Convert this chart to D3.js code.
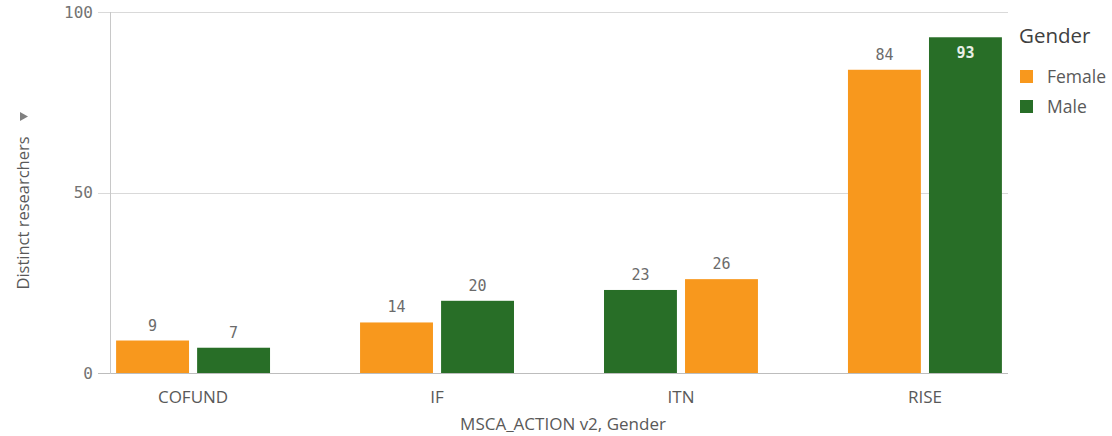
<!DOCTYPE html>
<meta charset="utf-8">
<style>
  body { margin: 0; background: #fff; }
  .tick-label, .value-label { font-family: "DejaVu Sans Mono", monospace; }
  .cat-label, .axis-title, .legend text { font-family: "Open Sans", sans-serif; }
</style>
<body>
<svg width="1112" height="436"></svg>
<script src="https://d3js.org/d3.v7.min.js"></script>
<script>

var categories = ["COFUND", "IF", "ITN", "RISE"];
var genders = ["Female", "Male"];
var female = [9, 14, 26, 84];
var male = [7, 20, 23, 93];
// bar order inside each group, as shown (ITN is flipped)
var barOrder = [["Female", "Male"], ["Female", "Male"], ["Male", "Female"], ["Female", "Male"]];
var yTicks = [0, 50, 100];

var colors = { Female: "#f8981d", Male: "#286e27" };
var textGrey = "#595959";

var svg = d3.select("svg");
var plotLeft = 110, plotRight = 1008, plotTop = 12, plotBottom = 373;

var y = d3.scaleLinear().domain([0, 100]).range([plotBottom, plotTop]);
var x = d3.scaleBand().domain(categories).range([plotLeft, plotRight])
    .paddingInner(0.369).paddingOuter(0.025);
var xInner = d3.scaleBand().domain([0, 1]).range([0, x.bandwidth()]).paddingInner(0.1);

// gridlines + ticks
svg.append("g").selectAll("line")
  .data(yTicks)
  .enter().append("line")
    .attr("x1", plotLeft - 12).attr("x2", plotRight)
    .attr("y1", d => Math.round(y(d)) + 0.5).attr("y2", d => Math.round(y(d)) + 0.5)
    .attr("stroke", d => d === 0 ? "#bdbdbd" : "#d9d9d9");

svg.append("line")
    .attr("x1", plotLeft + 0.5).attr("x2", plotLeft + 0.5)
    .attr("y1", plotTop).attr("y2", plotBottom + 1)
    .attr("stroke", "#c8c8c8");

svg.append("g").selectAll("text")
  .data(yTicks)
  .enter().append("text")
    .attr("class", "tick-label")
    .attr("x", plotLeft - 17).attr("y", d => y(d))
    .attr("dy", "0.35em")
    .attr("text-anchor", "end")
    .attr("font-size", 16)
    .attr("fill", "#737373")
    .text(d => d);

// bars
var rows = [];
categories.forEach(function(c, i) {
  var vals = { Female: female[i], Male: male[i] };
  barOrder[i].forEach(function(g, j) {
    rows.push({ cat: c, gender: g, slot: j, value: vals[g] });
  });
});

function inside(d) { return y(d.value) - 30 < plotTop; }

var bars = svg.append("g").selectAll("g")
  .data(rows)
  .enter().append("g")
    .attr("transform", d => "translate(" + (x(d.cat) + xInner(d.slot)) + ",0)");

bars.append("rect")
    .attr("x", 0).attr("width", xInner.bandwidth())
    .attr("y", d => y(d.value))
    .attr("height", d => plotBottom - y(d.value))
    .attr("fill", d => colors[d.gender]);

bars.append("text")
    .attr("class", "value-label")
    .attr("x", xInner.bandwidth() / 2)
    .attr("y", d => inside(d) ? y(d.value) + 21 : y(d.value) - 10)
    .attr("text-anchor", "middle")
    .attr("font-size", 15)
    .attr("font-weight", d => inside(d) ? "bold" : "normal")
    .attr("fill", d => inside(d) ? "#e8efe8" : "#6b6b6b")
    .text(d => d.value);

// category labels
svg.append("g").selectAll("text")
  .data(categories)
  .enter().append("text")
    .attr("class", "cat-label")
    .attr("x", d => x(d) + x.bandwidth() / 2)
    .attr("y", 403)
    .attr("text-anchor", "middle")
    .attr("font-size", 17)
    .attr("fill", textGrey)
    .text(d => d);

svg.append("text")
    .attr("class", "axis-title")
    .attr("x", 563).attr("y", 430)
    .attr("text-anchor", "middle")
    .attr("font-size", 17)
    .attr("fill", textGrey)
    .text("MSCA_ACTION v2, Gender");

svg.append("text")
    .attr("class", "axis-title")
    .attr("transform", "translate(29,213) rotate(-90)")
    .attr("text-anchor", "middle")
    .attr("font-size", 16.5)
    .attr("fill", textGrey)
    .text("Distinct researchers");

svg.append("path")
    .attr("d", "M20,112 L28,116.5 L20,121 Z")
    .attr("fill", "#808080");

// legend
var legend = svg.append("g").attr("class", "legend");
legend.append("text")
    .attr("x", 1019).attr("y", 43)
    .attr("font-size", 20.5)
    .attr("fill", "#404040")
    .text("Gender");

var items = legend.selectAll("g.item")
  .data(genders)
  .enter().append("g")
    .attr("class", "item")
    .attr("transform", (d, i) => "translate(1020," + (70 + i * 30) + ")");

items.append("rect")
    .attr("width", 13).attr("height", 13)
    .attr("fill", d => colors[d]);

items.append("text")
    .attr("x", 27).attr("y", 7)
    .attr("dy", "0.35em")
    .attr("font-size", 17.5)
    .attr("fill", textGrey)
    .text(d => d);

</script>
